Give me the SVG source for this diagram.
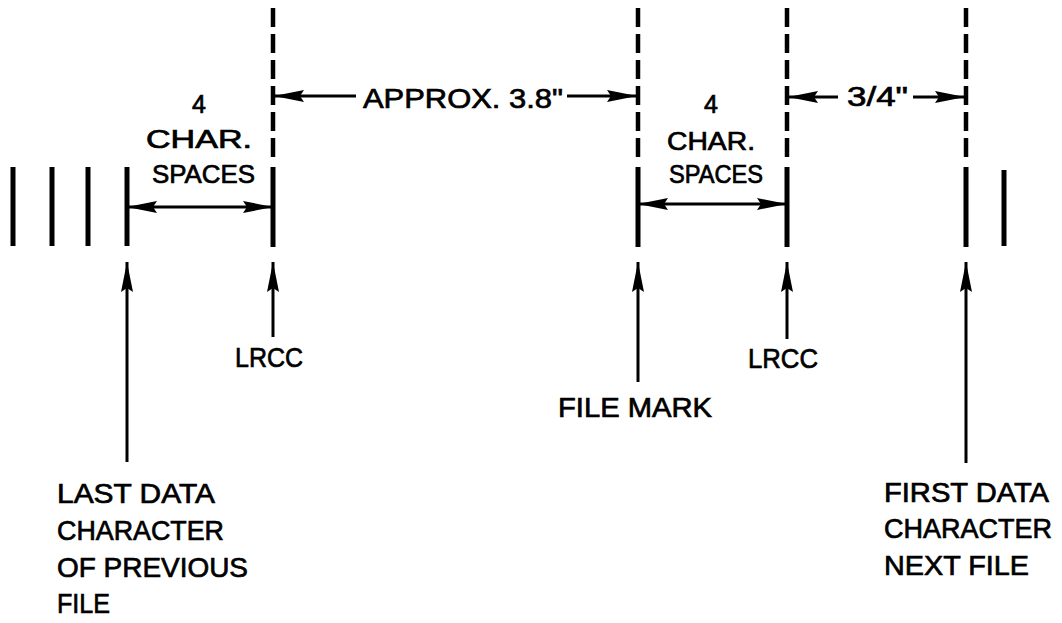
<svg xmlns="http://www.w3.org/2000/svg" width="1062" height="623" viewBox="0 0 1062 623">
<style>
.bar{stroke:#000;stroke-width:5;fill:none}
.dash{stroke:#000;stroke-width:4.5;fill:none;stroke-dasharray:19 7}
.arr{stroke:#000;stroke-width:3;fill:none}
text{font-family:"Liberation Sans",Arial,sans-serif;fill:#000;font-size:28px;stroke:#000;stroke-width:0.7}
.sm{font-size:25px}
</style>
<defs>
<marker id="ah" markerUnits="userSpaceOnUse" markerWidth="32" markerHeight="14" refX="30" refY="7" orient="auto-start-reverse" viewBox="0 0 32 14">
<path d="M0,1 L30,7 L0,13 L4,7 z" fill="#000"/>
</marker>
</defs>
<rect width="1062" height="623" fill="#fff"/>
<g id="bars">
<line class="bar" x1="13" y1="167" x2="13" y2="246"/>
<line class="bar" x1="52" y1="167" x2="52" y2="246"/>
<line class="bar" x1="88" y1="167" x2="88" y2="246"/>
<line class="bar" x1="127" y1="167" x2="127" y2="246"/>
<line class="bar" x1="1004" y1="170" x2="1004" y2="246"/>
</g>
<g id="lrcc1-mark">
<line class="dash" x1="273" y1="8" x2="273" y2="157"/>
<line class="bar" x1="273" y1="167" x2="273" y2="247"/>
</g>
<g id="filemark-mark">
<line class="dash" x1="638" y1="8" x2="638" y2="157"/>
<line class="bar" x1="638" y1="167" x2="638" y2="247"/>
</g>
<g id="lrcc2-mark">
<line class="dash" x1="787" y1="8" x2="787" y2="157"/>
<line class="bar" x1="787" y1="167" x2="787" y2="247"/>
</g>
<g id="first-mark">
<line class="dash" x1="966" y1="8" x2="966" y2="157"/>
<line class="bar" x1="966" y1="167" x2="966" y2="247"/>
</g>
<g id="connectors">
<line class="arr" x1="127" y1="207" x2="273" y2="207" marker-start="url(#ah)" marker-end="url(#ah)"/>
<line class="arr" x1="638" y1="204" x2="787" y2="204" marker-start="url(#ah)" marker-end="url(#ah)"/>
<line class="arr" x1="356" y1="96" x2="274" y2="96" marker-end="url(#ah)"/>
<line class="arr" x1="567" y1="96" x2="637" y2="96" marker-end="url(#ah)"/>
<line class="arr" x1="838" y1="97" x2="788" y2="97" marker-end="url(#ah)"/>
<line class="arr" x1="913" y1="97" x2="965" y2="97" marker-end="url(#ah)"/>
<line class="arr" x1="127" y1="462" x2="127" y2="262" marker-end="url(#ah)"/>
<line class="arr" x1="273" y1="337" x2="273" y2="262" marker-end="url(#ah)"/>
<line class="arr" x1="638" y1="382" x2="638" y2="262" marker-end="url(#ah)"/>
<line class="arr" x1="787" y1="339" x2="787" y2="262" marker-end="url(#ah)"/>
<line class="arr" x1="966" y1="463" x2="966" y2="262" marker-end="url(#ah)"/>
</g>
<g id="label-4char-1">
<text class="sm" x="199" y="113" text-anchor="middle">4</text>
<text class="sm" x="146" y="148" textLength="106" lengthAdjust="spacingAndGlyphs">CHAR.</text>
<text class="sm" x="152" y="183" textLength="103" lengthAdjust="spacingAndGlyphs">SPACES</text>
</g>
<g id="label-4char-2">
<text class="sm" x="711" y="113" text-anchor="middle">4</text>
<text class="sm" x="667" y="150" textLength="88" lengthAdjust="spacingAndGlyphs">CHAR.</text>
<text class="sm" x="669" y="183" textLength="94" lengthAdjust="spacingAndGlyphs">SPACES</text>
</g>
<g id="label-approx">
<text x="363" y="108" textLength="200" lengthAdjust="spacingAndGlyphs">APPROX. 3.8"</text>
</g>
<g id="label-34">
<text x="847" y="106" textLength="61" lengthAdjust="spacingAndGlyphs">3/4"</text>
</g>
<g id="label-lrcc1">
<text x="235" y="367" textLength="68" lengthAdjust="spacingAndGlyphs">LRCC</text>
</g>
<g id="label-lrcc2">
<text x="748" y="368" textLength="70" lengthAdjust="spacingAndGlyphs">LRCC</text>
</g>
<g id="label-filemark">
<text x="558" y="417" textLength="154" lengthAdjust="spacingAndGlyphs">FILE MARK</text>
</g>
<g id="label-last">
<text x="57" y="503" textLength="158" lengthAdjust="spacingAndGlyphs">LAST DATA</text>
<text x="57" y="540" textLength="167" lengthAdjust="spacingAndGlyphs">CHARACTER</text>
<text x="57" y="577" textLength="191" lengthAdjust="spacingAndGlyphs">OF PREVIOUS</text>
<text x="57" y="613" textLength="53" lengthAdjust="spacingAndGlyphs">FILE</text>
</g>
<g id="label-first">
<text x="884" y="502" textLength="165" lengthAdjust="spacingAndGlyphs">FIRST DATA</text>
<text x="884" y="538" textLength="168" lengthAdjust="spacingAndGlyphs">CHARACTER</text>
<text x="884" y="575" textLength="145" lengthAdjust="spacingAndGlyphs">NEXT FILE</text>
</g>
</svg>
